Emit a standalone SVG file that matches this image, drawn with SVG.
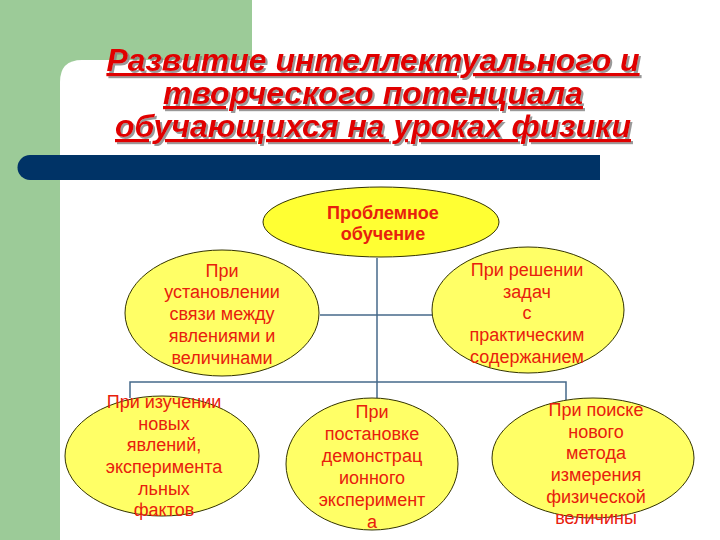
<svg xmlns="http://www.w3.org/2000/svg" width="720" height="540" viewBox="0 0 720 540">
<defs>
<filter id="sh" x="-5%" y="-20%" width="110%" height="140%">
<feDropShadow dx="2" dy="2" stdDeviation="0.6" flood-color="#808080" flood-opacity="0.8"/>
</filter>
</defs>
<style>
.title{font-family:"Liberation Sans",Arial,sans-serif;font-size:32px;font-weight:bold;font-style:italic;text-decoration:underline;text-anchor:middle;fill:#e00000}
.node ellipse{fill:#ffff66;stroke:#333300;stroke-width:1}
.lbl{font-family:"Liberation Sans",Arial,sans-serif;font-size:18px;fill:#e8200c;text-anchor:middle}
.b{font-weight:bold}
.conn{stroke:#46698a;stroke-width:1.5;fill:none}
</style>
<rect x="0" y="0" width="720" height="540" fill="#ffffff"/>
<rect x="0" y="0" width="252" height="540" fill="#9ccb98"/>
<path d="M60 540 V82 Q60 60 82 60 H720 V540 Z" fill="#ffffff"/>
<path d="M600 155 H30 A12.5 12.5 0 0 0 30 180 H600 Z" fill="#003366"/>
<g id="title" filter="url(#sh)">
<text class="title" x="373" y="71">Развитие интеллектуального и</text>
<text class="title" x="373" y="104">творческого потенциала</text>
<text class="title" x="373" y="137">обучающихся на уроках физики</text>
</g>
<g id="connectors" class="conn">
<path d="M377 258 V382"/>
<path d="M320 315 H432"/>
<path d="M130 398 V382 H566 V400"/>
<path d="M377 382 V398"/>
</g>
<g id="n-top" class="node">
<ellipse cx="381" cy="222" rx="118" ry="35" style="fill:#ffff33"/>
<text class="lbl b" x="383" y="219">Проблемное</text>
<text class="lbl b" x="383" y="240">обучение</text>
</g>
<g id="n-left" class="node">
<ellipse cx="222" cy="313" rx="97" ry="63"/>
<text class="lbl" x="222" y="277">При</text>
<text class="lbl" x="222" y="298">установлении</text>
<text class="lbl" x="222" y="320">связи между</text>
<text class="lbl" x="222" y="342">явлениями и</text>
<text class="lbl" x="222" y="364">величинами</text>
</g>
<g id="n-right" class="node">
<ellipse cx="528" cy="310" rx="96" ry="63"/>
<text class="lbl" x="527" y="276">При решении</text>
<text class="lbl" x="527" y="298">задач</text>
<text class="lbl" x="527" y="319">с</text>
<text class="lbl" x="527" y="341">практическим</text>
<text class="lbl" x="527" y="363">содержанием</text>
</g>
<g id="n-bl" class="node">
<ellipse cx="162" cy="456" rx="97" ry="60"/>
<text class="lbl" x="164" y="408">При изучении</text>
<text class="lbl" x="164" y="430">новых</text>
<text class="lbl" x="164" y="451">явлений,</text>
<text class="lbl" x="164" y="473">эксперимента</text>
<text class="lbl" x="164" y="495">льных</text>
<text class="lbl" x="164" y="516">фактов</text>
</g>
<g id="n-bc" class="node">
<ellipse cx="372" cy="464" rx="86" ry="66"/>
<text class="lbl" x="372" y="418">При</text>
<text class="lbl" x="372" y="440">постановке</text>
<text class="lbl" x="372" y="462">демонстрац</text>
<text class="lbl" x="372" y="484">ионного</text>
<text class="lbl" x="372" y="506">эксперимент</text>
<text class="lbl" x="372" y="528">а</text>
</g>
<g id="n-br" class="node">
<ellipse cx="593" cy="458" rx="101" ry="60"/>
<text class="lbl" x="596" y="416">При поиске</text>
<text class="lbl" x="596" y="438">нового</text>
<text class="lbl" x="596" y="459">метода</text>
<text class="lbl" x="596" y="481">измерения</text>
<text class="lbl" x="596" y="503">физической</text>
<text class="lbl" x="596" y="524">величины</text>
</g>
</svg>
